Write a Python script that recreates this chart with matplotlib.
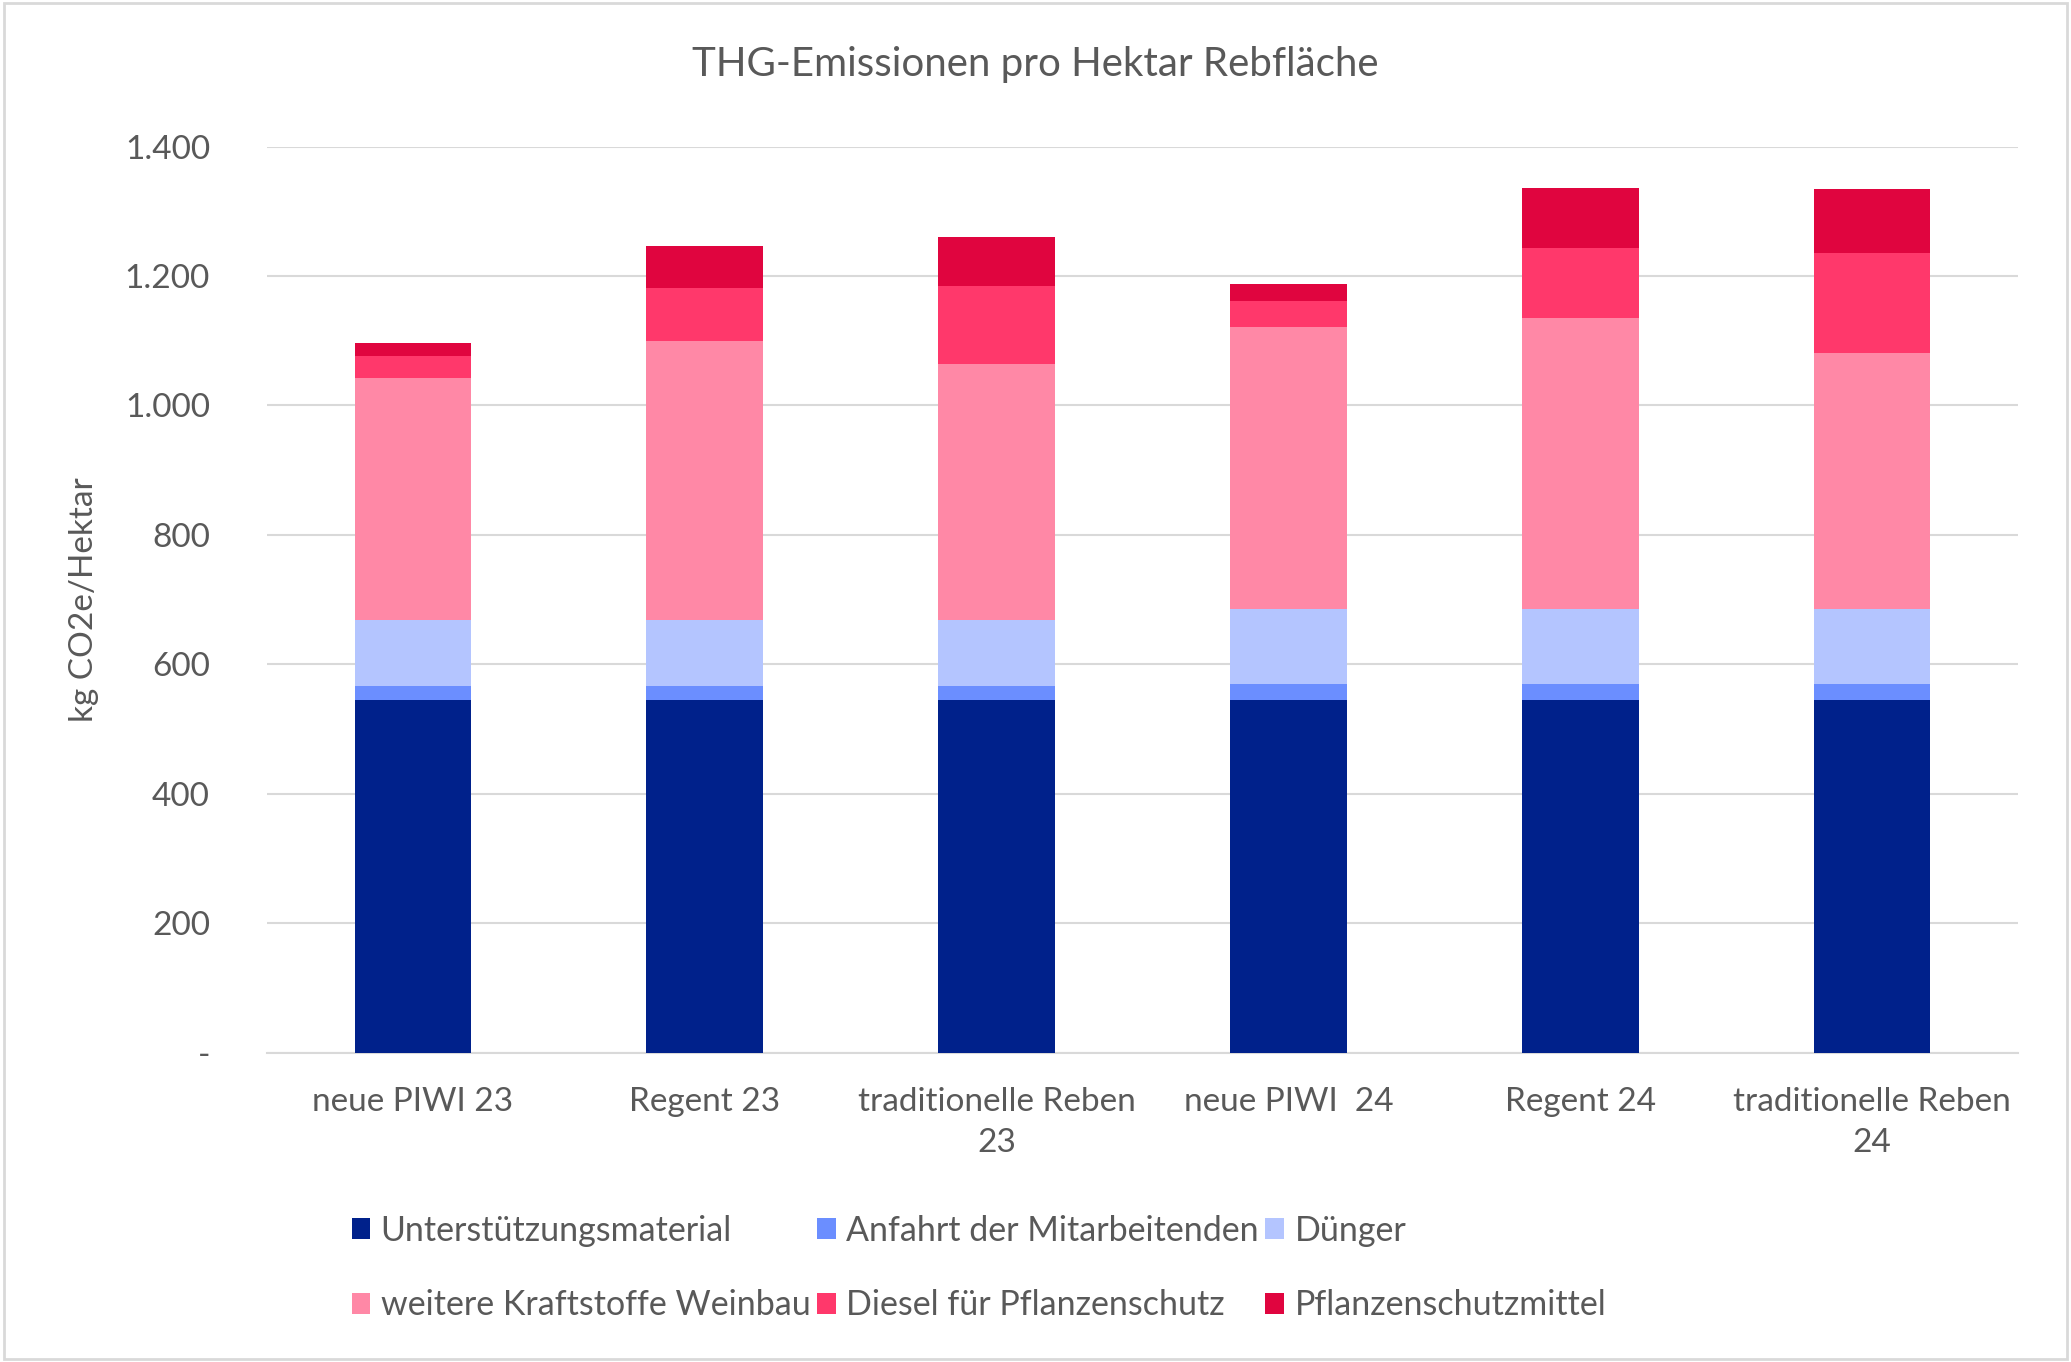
import matplotlib.pyplot as plt
import numpy as np
from matplotlib.ticker import FuncFormatter

plt.rcParams['font.family'] = ['Lato', 'DejaVu Sans']

categories = ['neue PIWI 23', 'Regent 23', 'traditionelle Reben\n23',
              'neue PIWI  24', 'Regent 24', 'traditionelle Reben\n24']

series_names = ['Unterstützungsmaterial', 'Anfahrt der Mitarbeitenden', 'Dünger',
                'weitere Kraftstoffe Weinbau', 'Diesel für Pflanzenschutz',
                'Pflanzenschutzmittel']

unterstuetzung = [545, 545, 545, 545, 545, 545]
anfahrt = [22, 22, 22, 25, 25, 25]
duenger = [102, 102, 102, 116, 116, 116]
kraftstoffe = [373, 430, 395, 435, 449, 395]
diesel = [34, 82, 121, 41, 109, 155]
psm = [20, 66, 76, 25, 92, 99]

colors = ['#00218B', '#6B8EFF', '#B4C5FF', '#FF88A6', '#FF386B', '#E0053F']

text_col = '#595959'

fig = plt.figure(figsize=(20.71, 13.62), dpi=100)
ax = fig.add_axes([0.1289, 0.2271, 0.8455, 0.6653])

x = np.arange(len(categories))
bottom = np.zeros(len(categories))
handles = []
for vals, name, col in zip([unterstuetzung, anfahrt, duenger, kraftstoffe, diesel, psm],
                           series_names, colors):
    b = ax.bar(x, vals, width=0.4, bottom=bottom, color=col, label=name, zorder=3)
    handles.append(b)
    bottom += np.array(vals)

ax.set_xlim(-0.5, len(categories) - 0.5)
ax.set_ylim(0, 1400)
ax.set_yticks(np.arange(0, 1401, 200))


def fmt(v, pos):
    if v == 0:
        return '-'
    return f'{int(v):,}'.replace(',', '.')


ax.yaxis.set_major_formatter(FuncFormatter(fmt))
ax.grid(axis='y', color='#D9D9D9', linewidth=1.5, zorder=0)
for s in ['top', 'right', 'left']:
    ax.spines[s].set_visible(False)
ax.spines['bottom'].set_color('#D9D9D9')
ax.spines['bottom'].set_linewidth(1.5)
ax.tick_params(axis='y', length=0, colors=text_col, labelsize=24, pad=41)
ax.tick_params(axis='x', length=0, colors=text_col, labelsize=24, pad=25)
ax.set_xticks(x)
ax.set_xticklabels(categories, linespacing=1.45)

ax.set_ylabel('kg CO2e/Hektar', fontsize=24, color=text_col)
ax.yaxis.set_label_coords(-0.096, 0.5)

fig.text(0.5, 0.953, 'THG-Emissionen pro Hektar Rebfläche', ha='center', va='center',
         fontsize=29, color=text_col)

# reorder so rows read left to right like the original
order = [0, 3, 1, 4, 2, 5]
leg = fig.legend([handles[i] for i in order], [series_names[i] for i in order],
                 ncol=3, loc='center left', bbox_to_anchor=(0.155, 0.069),
                 frameon=False, fontsize=24.5, handlelength=0.55, handleheight=0.55,
                 handletextpad=0.3, columnspacing=0.2, labelspacing=1.25)
for t in leg.get_texts():
    t.set_color(text_col)

# chart border
fig.patches.append(plt.Rectangle((0.002, 0.002), 0.996, 0.996, transform=fig.transFigure,
                                 fill=False, edgecolor='#D9D9D9', linewidth=2))

fig.savefig('out.png', dpi=100)
